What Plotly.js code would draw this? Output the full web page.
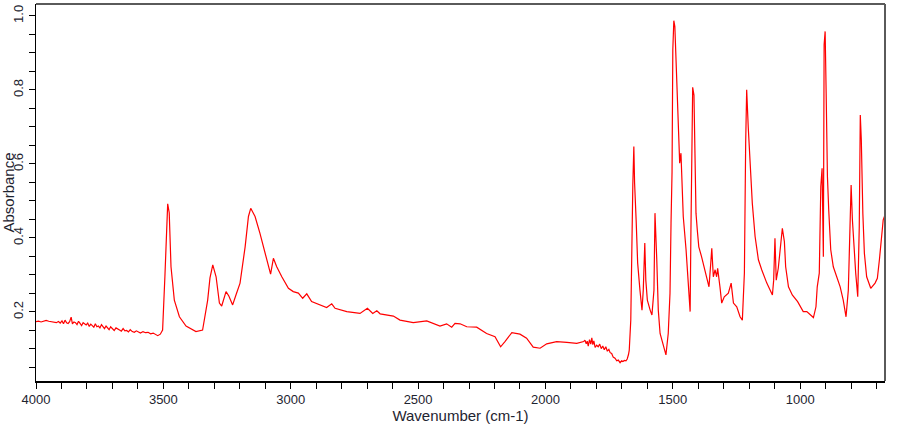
<!DOCTYPE html>
<html>
<head>
<meta charset="utf-8">
<script src="https://cdn.plot.ly/plotly-3.0.1.min.js"></script>
<style>html,body{margin:0;padding:0;background:#fff;}#chart{width:910px;height:425px;}</style>
</head>
<body>
<div id="chart"></div>
<script>
// Wavenumber (cm-1) values
var wavenumber = [
4000,3990,3980,3970,3960,3950,3940,3930,3920,3912,3905,3898,3892,3886,3880,3874,3868,3862,3857,3851,3845,3839,3833,3827,
3821,3815,3809,3803,3797,3791,3785,3779,3773,3767,3761,3755,3749,3743,3737,3731,3725,3719,3713,3707,3700,3693,3686,3679,
3672,3665,3658,3651,3644,3637,3630,3622,3614,3606,3598,3590,3580,3570,3560,3550,3540,3530,3522,3512,3503,
3494,3488,3483,3477,3470,3457,3437,3411,3372,3346,3326,3317,3306,3293,3280,3271,3254,3243,3228,3215,3199,3179,3166,
3157,3140,3121,3101,3088,3079,3068,3055,3035,3009,2990,2970,2953,2937,2918,2885,2859,2839,2826,2780,2728,2699,2678,
2662,2649,2597,2571,2519,2466,2414,2388,2368,2355,2335,2309,2270,2231,2198,2176,2159,2132,2100,2074,2048,2021,1995,
1956,1916,1877,1850,1845,1840,1836,1832,1827,1822,1818,1814,1810,1805,1799,1793,1787,1781,1775,1769,1763,1757,1751,
1746,1740,1734,1727,1720,1714,1707,1701,1696,1690,1684,1679,1674,1671,1665,1661,1657,1653,1650,1644,1638,1629,
1621,1616,1610,1606,1600,1589,1582,1574,1570,1563,1557,1550,1541,1533,1527,1518,1511,1507,1503,1500,1496,1492,1487,
1482,1477,1473,1468,1464,1459,1448,1438,1432,1429,1426,1422,1417,1413,1409,1404,1398,1387,1377,1367,1358,1351,1347,
1341,1334,1328,1324,1315,1308,1298,1282,1271,1262,1249,1236,1227,1219,1214,1210,1204,1197,1188,1177,1164,1151,1131,
1109,1104,1099,1094,1086,1078,1070,1062,1057,1046,1031,1010,988,974,948,938,933,925,919,914,911,909,906,902,898,893,
888,880,870,856,843,831,820,811,804,800,795,788,782,774,768,764,760,754,748,739,723,706,697,689,680,674,667
];
// Absorbance values
var absorbance = [
0.174,0.175,0.173,0.176,0.177,0.175,0.174,0.172,0.171,0.174,0.170,0.176,0.168,0.178,0.171,0.169,0.174,0.186,0.168,0.173,0.171,0.166,0.175,0.169,
0.163,0.171,0.168,0.165,0.170,0.161,0.167,0.164,0.159,0.168,0.160,0.162,0.157,0.166,0.161,0.155,0.162,0.158,0.152,0.160,0.156,0.150,0.157,0.153,
0.151,0.148,0.155,0.149,0.150,0.146,0.152,0.147,0.145,0.149,0.146,0.143,0.147,0.144,0.145,0.141,0.143,0.139,0.136,0.140,0.151,
0.295,0.422,0.492,0.468,0.322,0.232,0.187,0.162,0.147,0.151,0.232,0.292,0.327,0.295,0.224,0.216,0.255,0.243,0.219,0.246,0.278,0.376,0.458,
0.480,0.458,0.413,0.359,0.322,0.302,0.345,0.322,0.295,0.264,0.255,0.251,0.237,0.249,0.228,0.219,0.212,0.222,0.210,0.201,0.196,0.210,0.196,
0.203,0.195,0.189,0.178,0.171,0.176,0.162,0.168,0.159,0.169,0.168,0.160,0.159,0.142,0.133,0.106,0.120,0.144,0.140,0.129,0.105,0.102,0.114,
0.120,0.118,0.115,0.120,0.124,0.114,0.121,0.108,0.125,0.113,0.130,0.112,0.122,0.104,0.110,0.106,0.113,0.101,0.108,0.098,0.106,0.094,0.099,
0.090,0.088,0.078,0.075,0.068,0.070,0.063,0.068,0.066,0.069,0.068,0.073,0.085,0.097,0.178,0.386,0.543,0.647,0.548,0.449,0.332,0.259,
0.205,0.259,0.386,0.286,0.232,0.205,0.192,0.259,0.467,0.341,0.205,0.142,0.120,0.097,0.084,0.142,0.251,0.440,0.579,0.908,0.987,0.971,0.872,
0.737,0.674,0.602,0.629,0.566,0.458,0.368,0.268,0.201,0.413,0.579,0.807,0.786,0.602,0.467,0.422,0.376,0.349,0.322,0.295,0.268,0.332,0.372,
0.295,0.314,0.295,0.318,0.268,0.224,0.241,0.251,0.278,0.224,0.214,0.187,0.178,0.305,0.656,0.800,0.701,0.593,0.494,0.404,0.341,0.314,0.278,
0.246,0.286,0.399,0.286,0.318,0.376,0.426,0.390,0.322,0.268,0.246,0.228,0.201,0.201,0.185,0.214,0.268,0.305,0.539,0.588,0.413,0.349,0.922,0.958,0.791,0.566,
0.476,0.368,0.322,0.295,0.268,0.232,0.187,0.259,0.485,0.543,0.449,0.368,0.305,0.241,0.431,0.732,0.665,0.467,0.359,0.295,0.264,0.278,0.291,0.341,0.413,0.449,0.462
];
var xTickVals = [4000,3500,3000,2500,2000,1500,1000];
var xTickText = ['4000','3500','3000','2500','2000','1500','1000'];
var yTickVals = [0.2,0.4,0.6,0.8,1.0];
var yTickText = ['0.2','0.4','0.6','0.8','1.0'];

var trace = {
  x: wavenumber, y: absorbance, type: 'scatter', mode: 'lines',
  line: {color: '#ff0000', width: 1.2}, hoverinfo: 'skip'
};
var font = {family: 'Liberation Sans, Arial, sans-serif', size: 13, color: '#1e2430'};
var layout = {
  width: 910, height: 425,
  margin: {l: 36, r: 25, t: 4, b: 44, pad: 0},
  paper_bgcolor: '#ffffff', plot_bgcolor: '#ffffff',
  showlegend: false,
  font: font,
  xaxis: {
    range: [4000, 667], autorange: false,
    tickmode: 'array', tickvals: xTickVals, ticktext: xTickText,
    ticks: 'outside', ticklen: 6, tickwidth: 1, tickcolor: '#000',
    minor: {dtick: 100, tick0: 0, ticks: 'outside', ticklen: 6, tickwidth: 1, tickcolor: '#000', showgrid: false},
    showgrid: false, zeroline: false,
    showline: true, linecolor: '#000', linewidth: 1.5,
    tickfont: font,
    title: {text: 'Wavenumber (cm-1)', font: {family: 'Liberation Sans, Arial, sans-serif', size: 15, color: '#1e2430'}, standoff: 2},
    automargin: false
  },
  yaxis: {
    range: [0.0135, 1.032], autorange: false,
    tickmode: 'array', tickvals: yTickVals, ticktext: yTickText,
    tickangle: -90,
    ticks: 'outside', ticklen: 6, tickwidth: 1, tickcolor: '#000',
    minor: {dtick: 0.05, tick0: 0, ticks: 'outside', ticklen: 6, tickwidth: 1, tickcolor: '#000', showgrid: false},
    showgrid: false, zeroline: false,
    showline: true, linecolor: '#000', linewidth: 1.5,
    tickfont: font,
    title: {text: 'Absorbance', font: {family: 'Liberation Sans, Arial, sans-serif', size: 15, color: '#1e2430'}, standoff: 0},
    automargin: false
  },
  shapes: [
    {type: 'line', xref: 'paper', yref: 'paper', x0: 0, x1: 1, y0: 1, y1: 1, line: {color: '#5a5a5a', width: 2}},
    {type: 'line', xref: 'paper', yref: 'paper', x0: 1, x1: 1, y0: 0, y1: 1, line: {color: '#5a5a5a', width: 2}}
  ]
};
Plotly.newPlot('chart', [trace], layout, {staticPlot: true, displayModeBar: false});
</script>
</body>
</html>
